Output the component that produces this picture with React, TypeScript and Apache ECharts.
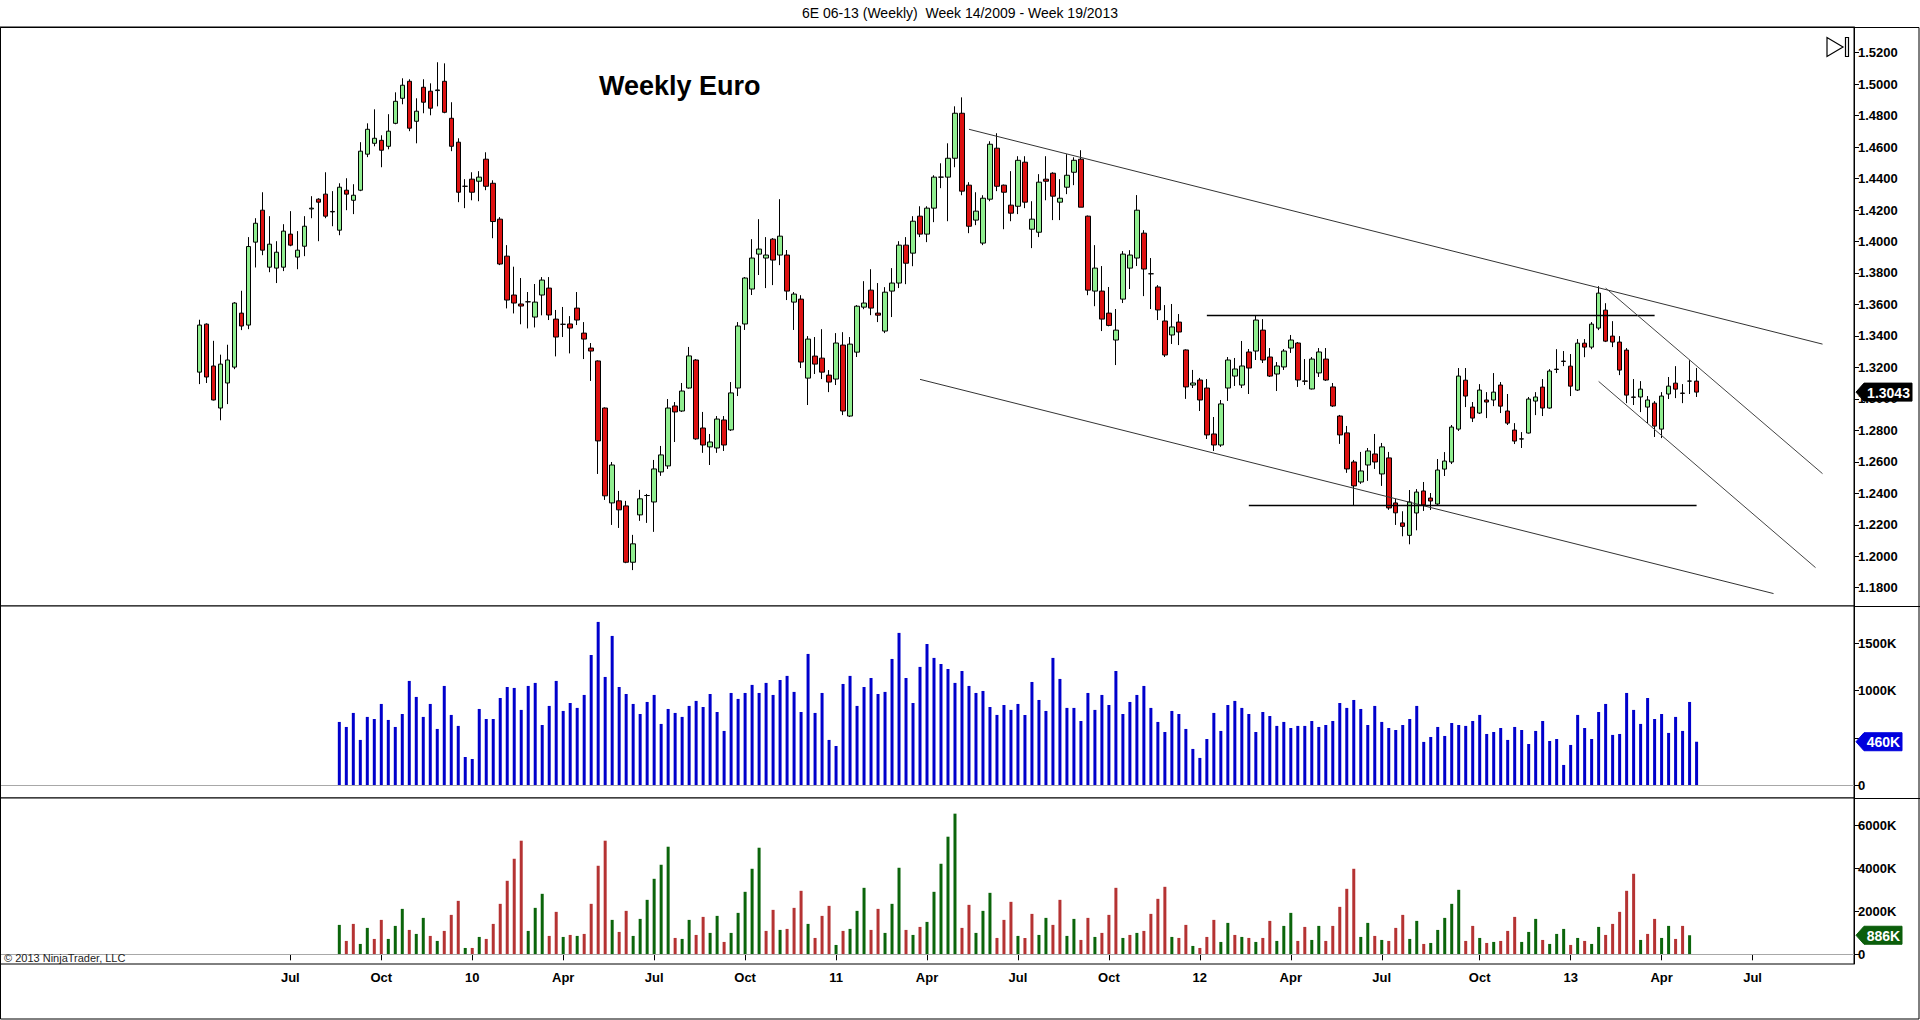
import React, { useEffect, useRef } from "react";
import * as echarts from "echarts";

// ---------- DATA ----------
const FIRST_WEEK = "2009-03-30"; // week 14/2009 (Monday)
const LEAD_WEEKS = 28; // empty weeks shown left of first bar
const TOTAL_SLOTS = 265; // weeks on the time axis (incl. future space)

const opens = [
  1.3170,1.3475,1.3209,1.2942,1.3101,1.3202,1.3545,1.3469,1.3996,1.4199,
  1.3837,1.3831,1.3837,1.4047,1.3901,1.3970,1.4207,1.4269,1.4301,1.4191,
  1.4072,1.4326,1.4262,1.4326,1.4555,1.4624,1.4643,1.4605,1.4751,1.4910,
  1.5018,1.4764,1.4980,1.4955,1.4959,1.5018,1.4783,1.4631,1.4351,1.4396,
  1.4383,1.4523,1.4370,1.4142,1.3907,1.3660,1.3603,1.3617,1.3520,1.3660,
  1.3704,1.3507,1.3474,1.3476,1.3577,1.3418,1.3323,1.3241,1.2942,1.2339,
  1.2352,1.2320,1.1962,1.2263,1.2386,1.2345,1.2536,1.2574,1.2955,1.2923,
  1.3069,1.3247,1.2815,1.2695,1.2688,1.2866,1.2803,1.3069,1.3476,1.3698,
  1.3920,1.3895,1.4015,1.3914,1.3914,1.3615,1.3634,1.3132,1.3272,1.3259,
  1.3151,1.3126,1.3342,1.2891,1.3297,1.3583,1.3691,1.3545,1.3431,1.3685,
  1.3736,1.3977,1.3926,1.4161,1.4047,1.4212,1.4409,1.4409,1.4529,1.4815,
  1.4358,1.4136,1.3990,1.4269,1.4593,1.4358,1.4231,1.4224,1.4504,1.4078,
  1.4059,1.4396,1.4434,1.4250,1.4345,1.4440,1.4523,1.4161,1.3685,1.3685,
  1.3545,1.3374,1.3634,1.3831,1.3895,1.4053,1.3795,1.3711,1.3495,1.3406,
  1.3488,1.3311,1.3088,1.3120,1.3069,1.2777,1.2707,1.3069,1.3145,1.3088,
  1.3298,1.3304,1.3437,1.3266,1.3158,1.3203,1.3323,1.3355,1.3114,1.3063,
  1.3165,1.3253,1.3076,1.2891,1.2784,1.2599,1.2472,1.2580,1.2650,1.2523,
  1.2625,1.2339,1.2212,1.2133,1.2275,1.2415,1.2370,1.2332,1.2554,1.2599,
  1.2808,1.3119,1.2948,1.2910,1.2993,1.2993,1.3088,1.2923,1.2802,1.2745,
  1.2783,1.2986,1.3075,1.2942,1.3189,1.3240,1.3208,1.3056,1.3354,1.3329,
  1.3450,1.3564,1.3399,1.3361,1.3310,1.3012,1.3012,1.2948,1.2973,1.2808,
  1.3031,1.3100,1.3037,1.3113,1.3113,
];

const highs = [
  1.3503,1.3480,1.3369,1.3281,1.3344,1.3615,1.3687,1.4028,1.4148,1.4313,
  1.4161,1.4002,1.4110,1.4193,1.4066,1.4161,1.4288,1.4275,1.4440,1.4320,
  1.4370,1.4402,1.4364,1.4631,1.4751,1.4840,1.4675,1.4809,1.4948,1.5037,
  1.5031,1.4910,1.5031,1.5005,1.5139,1.5132,1.4885,1.4656,1.4396,1.4440,
  1.4447,1.4567,1.4389,1.4155,1.3977,1.3840,1.3768,1.3679,1.3730,1.3774,
  1.3774,1.3565,1.3584,1.3526,1.3679,1.3488,1.3355,1.3245,1.2946,1.2599,
  1.2415,1.2352,1.2136,1.2422,1.2396,1.2612,1.2701,1.2999,1.2980,1.3101,
  1.3330,1.3253,1.2917,1.2777,1.2891,1.2891,1.3107,1.3488,1.3774,1.4015,
  1.4142,1.4028,1.4022,1.4269,1.3946,1.3679,1.3659,1.3399,1.3393,1.3443,
  1.3183,1.3418,1.3424,1.3393,1.3596,1.3748,1.3824,1.3736,1.3710,1.3831,
  1.4002,1.4028,1.4161,1.4224,1.4224,1.4421,1.4497,1.4624,1.4859,1.4916,
  1.4377,1.4313,1.4294,1.4637,1.4688,1.4362,1.4447,1.4542,1.4542,1.4256,
  1.4428,1.4542,1.4440,1.4396,1.4555,1.4535,1.4580,1.4165,1.3977,1.3844,
  1.3711,1.3571,1.3939,1.3945,1.4295,1.4072,1.3895,1.3723,1.3596,1.3603,
  1.3539,1.3315,1.3184,1.3133,1.3126,1.2885,1.2993,1.3266,1.3260,1.3368,
  1.3317,1.3533,1.3507,1.3323,1.3234,1.3317,1.3406,1.3361,1.3253,1.3266,
  1.3323,1.3323,1.3101,1.2898,1.2828,1.2612,1.2663,1.2688,1.2777,1.2720,
  1.2663,1.2364,1.2286,1.2421,1.2427,1.2472,1.2402,1.2618,1.2662,1.2834,
  1.3196,1.3196,1.2980,1.3094,1.3043,1.3164,1.3107,1.3031,1.2846,1.2789,
  1.3012,1.3043,1.3126,1.3189,1.3316,1.3304,1.3285,1.3380,1.3380,1.3488,
  1.3716,1.3608,1.3494,1.3399,1.3323,1.3126,1.3113,1.3018,1.2986,1.3043,
  1.3139,1.3208,1.3094,1.3246,1.3196,
];

const lows = [
  1.3094,1.3101,1.2990,1.2864,1.2967,1.3189,1.3437,1.3443,1.3835,1.3913,
  1.3805,1.3736,1.3812,1.3970,1.3824,1.3907,1.4148,1.4002,1.4148,1.4097,
  1.4040,1.4199,1.4174,1.4320,1.4536,1.4605,1.4472,1.4586,1.4745,1.4872,
  1.4701,1.4624,1.4815,1.4802,1.4859,1.4815,1.4574,1.4250,1.4212,1.4262,
  1.4256,1.4326,1.4021,1.3850,1.3575,1.3543,1.3474,1.3448,1.3454,1.3531,
  1.3501,1.3270,1.3393,1.3289,1.3469,1.3253,1.3114,1.2523,1.2358,1.2199,
  1.2180,1.1956,1.1912,1.2225,1.2212,1.2155,1.2511,1.2555,1.2726,1.2917,
  1.3065,1.2740,1.2657,1.2580,1.2657,1.2669,1.2796,1.3018,1.3438,1.3660,
  1.3787,1.3704,1.3723,1.3850,1.3628,1.3438,1.3196,1.2961,1.3158,1.3126,
  1.3043,1.3088,1.2897,1.2885,1.3266,1.3570,1.3532,1.3488,1.3418,1.3520,
  1.3704,1.3729,1.3843,1.4028,1.3996,1.4123,1.4339,1.4129,1.4472,1.4294,
  1.4053,1.4104,1.3977,1.4256,1.4320,1.4078,1.4129,1.4174,1.4212,1.3958,
  1.4028,1.4262,1.4136,1.4136,1.4301,1.4358,1.4218,1.3659,1.3589,1.3431,
  1.3461,1.3215,1.3609,1.3698,1.3844,1.3653,1.3571,1.3501,1.3266,1.3349,
  1.3342,1.3000,1.3069,1.2923,1.2745,1.2669,1.2695,1.2987,1.3082,1.3069,
  1.3031,1.3247,1.3228,1.3139,1.3050,1.3184,1.3292,1.3076,1.3088,1.3060,
  1.3139,1.3114,1.2949,1.2714,1.2530,1.2320,1.2460,1.2479,1.2555,1.2447,
  1.2295,1.2199,1.2127,1.2076,1.2165,1.2288,1.2294,1.2326,1.2510,1.2586,
  1.2796,1.2948,1.2853,1.2904,1.2878,1.2954,1.2910,1.2834,1.2713,1.2688,
  1.2780,1.2897,1.2891,1.2938,1.3164,1.3208,1.3018,1.3050,1.3265,1.3316,
  1.3437,1.3361,1.3329,1.3151,1.2973,1.2961,1.2916,1.2846,1.2758,1.2751,
  1.2999,1.3005,1.2973,1.3031,1.3012,
];

const closes = [
  1.3469,1.3139,1.2993,1.3221,1.3247,1.3609,1.3463,1.3968,1.4116,1.3945,
  1.3983,1.3932,1.4066,1.3977,1.3945,1.4097,1.4212,1.4250,1.4161,1.4188,
  1.4345,1.4301,1.4294,1.4574,1.4713,1.4656,1.4580,1.4701,1.4891,1.4993,
  1.4720,1.4828,1.4885,1.4847,1.4963,1.4821,1.4605,1.4313,1.4351,1.4313,
  1.4409,1.4351,1.4127,1.3857,1.3628,1.3609,1.3590,1.3617,1.3615,1.3755,
  1.3533,1.3393,1.3474,1.3450,1.3501,1.3380,1.3304,1.2733,1.2384,1.2580,
  1.2295,1.1962,1.2079,1.2365,1.2386,1.2555,1.2644,1.2942,1.2917,1.3050,
  1.3273,1.2746,1.2707,1.2726,1.2872,1.2707,1.3038,1.3463,1.3768,1.3895,
  1.3952,1.3914,1.3882,1.4034,1.3685,1.3666,1.3234,1.3380,1.3221,1.3170,
  1.3107,1.3355,1.2923,1.3348,1.3589,1.3609,1.3577,1.3532,1.3678,1.3736,
  1.3977,1.3862,1.4129,1.4047,1.4212,1.4409,1.4409,1.4529,1.4815,1.4320,
  1.4097,1.4193,1.4275,1.4618,1.4351,1.4313,1.4180,1.4516,1.4250,1.4142,
  1.4377,1.4383,1.4288,1.4275,1.4421,1.4516,1.4218,1.3691,1.3831,1.3507,
  1.3467,1.3437,1.3920,1.3914,1.4199,1.3825,1.3795,1.3565,1.3279,1.3457,
  1.3425,1.3076,1.3101,1.2993,1.2771,1.2707,1.2968,1.3247,1.3190,1.3209,
  1.3196,1.3501,1.3247,1.3145,1.3209,1.3304,1.3374,1.3120,1.3112,1.3253,
  1.3298,1.3120,1.2955,1.2771,1.2555,1.2447,1.2542,1.2669,1.2599,1.2695,
  1.2307,1.2276,1.2190,1.2345,1.2408,1.2326,1.2351,1.2548,1.2605,1.2821,
  1.3145,1.3018,1.2878,1.3056,1.2980,1.3043,1.2954,1.2846,1.2732,1.2746,
  1.2999,1.3012,1.2942,1.3177,1.3187,1.3238,1.3081,1.3354,1.3329,1.3475,
  1.3672,1.3367,1.3361,1.3183,1.3024,1.3010,1.3062,1.2993,1.2827,1.3018,
  1.3081,1.3062,1.3035,1.3113,1.3043,
];

// Weekly volume (thousands), starts at bar index 20
const VOLUME_START = 20;
const volume = [
  669,616,764,479,722,700,859,690,616,753,
  1102,933,722,859,595,1049,743,627,299,278,
  806,700,700,922,1038,1028,796,1049,1081,637,
  838,1102,785,869,817,954,1376,1725,1144,1577,
  1038,964,859,753,880,954,648,806,764,722,
  838,891,827,964,774,574,975,912,975,1060,
  975,1081,954,1112,1155,
  986,774,1387,764,975,479,415,1070,1155,
  838,1038,1133,964,986,1334,1609,1133,869,1250,
  1492,1345,1281,1228,1081,1207,1049,975,996,827,
  743,848,796,859,743,1091,901,785,1345,1123,
  817,817,679,975,796,954,848,1207,753,880,
  954,1049,817,669,563,785,753,595,384,289,
  489,764,574,848,891,817,
  753,563,774,732,627,669,605,627,627,679,
  616,637,679,869,817,901,806,637,838,669,
  605,584,637,700,838,458,510,616,521,658,
  637,627,679,743,542,563,605,479,616,584,
  436,574,679,468,489,215,426,743,605,489,
  774,859,532,542,975,796,648,922,700,753,
  553,722,574,880,460,
];

// Lower panel (thousands), starts at bar index 20, coloured up (G) / down (R)
const LOWER_START = 20;
const lowerValues = [
  1368,622,1414,482,1228,715,1601,715,1321,2113,
  1134,948,1694,855,622,1088,1834,2486,295,295,
  808,715,1414,2347,3419,4444,5284,1088,2160,2813,
  855,1974,808,901,855,948,2347,4118,5284,1601,
  1041,2020,855,1647,2533,3512,4165,5004,761,715,
  1601,901,1740,995,1787,575,995,1927,2906,3978,
  4957,1088,2067,1134,1181,
  2160,2953,1414,761,1787,2253,435,1088,1181,
  2020,3092,1134,2113,995,2347,4025,1134,901,1274,
  1507,2906,4211,5470,6542,1228,2300,995,2020,2859,
  761,1601,2440,855,761,1880,901,1694,1368,2533,
  855,1647,668,1694,808,995,1834,3092,761,901,
  995,1088,1880,2580,3139,808,761,1368,389,295,
  808,1601,575,1461,901,808,
  761,575,761,1554,622,1321,1927,622,1274,668,
  1321,622,1321,2207,3046,3978,808,1461,855,668,
  622,1228,1834,715,1554,482,528,1134,1694,2347,
  2999,622,1321,761,528,575,622,1088,1740,575,
  1041,1647,668,482,948,1181,435,761,622,482,
  1274,901,1414,1974,2953,3745,668,948,1647,761,
  1321,715,1321,886,
];
const lowerDirections =
  "GRRGGRRGGG" + "RGGRGRRRGR" + "GRRRRRRGGG" + "RRGRGRRRRG" + "RRGGGGGGRG" +
  "GRRGGRGGGG" + "GRRGR" + "RRGRRRGRG" + "GGRRGGGRGR" + "GGGGGRRGGG" +
  "RRRGRRGGRR" + "GGRRGRRRGR" + "GRRRRGRRGR" + "RRGGRG" + "RGRRGGGRRG" +
  "GRRRRRGGRG" + "RRRGGRGGGG" + "GRRGRGRRRG" + "GGRGGGRGRG" + "GRRRRRGRRG" + "GRRG";

// Drawn lines: bar index / price at both ends
const drawnLines = [
  { i0: 110, p0: 1.4713, i1: 232, p1: 1.3348, color: "#333333", width: 1 },
  { i0: 103, p0: 1.3124, i1: 225, p1: 1.1763, color: "#333333", width: 1 },
  { i0: 144, p0: 1.3534, i1: 208, p1: 1.3534, color: "#000000", width: 1.4 },
  { i0: 150, p0: 1.2326, i1: 214, p1: 1.2326, color: "#000000", width: 1.4 },
  { i0: 201, p0: 1.3704, i1: 232, p1: 1.2525, color: "#444444", width: 1 },
  { i0: 200, p0: 1.3111, i1: 231, p1: 1.1928, color: "#444444", width: 1 },
];

const priceTicks = [1.18,1.20,1.22,1.24,1.26,1.28,1.30,1.32,1.34,1.36,1.38,1.40,1.42,1.44,1.46,1.48,1.50,1.52];
const volumeTicks = [0, 500, 1000, 1500];
const volumeTickLabels = [0, 1000, 1500]; // 500K is hidden behind the last-value marker
const lowerTicks = [0, 2000, 4000, 6000];

const timeTicks = [
  ["2009-07-01", "Jul"], ["2009-10-01", "Oct"], ["2010-01-01", "10"], ["2010-04-01", "Apr"],
  ["2010-07-01", "Jul"], ["2010-10-01", "Oct"], ["2011-01-01", "11"], ["2011-04-01", "Apr"],
  ["2011-07-01", "Jul"], ["2011-10-01", "Oct"], ["2012-01-01", "12"], ["2012-04-01", "Apr"],
  ["2012-07-01", "Jul"], ["2012-10-01", "Oct"], ["2013-01-01", "13"], ["2013-04-01", "Apr"],
  ["2013-07-01", "Jul"],
];

const TITLE = "6E 06-13 (Weekly)  Week 14/2009 - Week 19/2013";
const CHART_NOTE = "Weekly Euro";
const COPYRIGHT = "© 2013 NinjaTrader, LLC";

// ---------- COMPONENT ----------
const FONT = '"Liberation Sans", Arial, Helvetica, sans-serif';
const WEEK_MS = 7 * 86400000;

export default function App() {
  const ref = useRef<HTMLDivElement>(null);

  useEffect(() => {
    document.body.style.margin = "0";
    const el = ref.current;
    if (!el) return;
    const chart = echarts.init(el, null, { renderer: "svg" });

    const start = Date.parse(FIRST_WEEK + "T00:00:00Z");
    const categories: string[] = [];
    for (let k = 0; k < TOTAL_SLOTS; k++) {
      categories.push(new Date(start + (k - LEAD_WEEKS) * WEEK_MS).toISOString().slice(0, 10));
    }
    const labelAt: Record<number, string> = {};
    timeTicks.forEach(([d, text]) => {
      const k = LEAD_WEEKS + Math.floor((Date.parse(d + "T00:00:00Z") - start) / WEEK_MS);
      labelAt[k] = text;
    });
    const tickFn = (idx: number) => labelAt[idx] !== undefined;

    const candleData = categories.map((_, k) => {
      const i = k - LEAD_WEEKS;
      return i >= 0 && i < opens.length ? [opens[i], closes[i], lows[i], highs[i]] : "-";
    });
    const volData = categories.map((_, k) => {
      const i = k - LEAD_WEEKS - VOLUME_START;
      return i >= 0 && i < volume.length ? volume[i] : "-";
    });
    const lowerData = categories.map((_, k) => {
      const i = k - LEAD_WEEKS - LOWER_START;
      if (i < 0 || i >= lowerValues.length) return "-";
      return {
        value: lowerValues[i],
        itemStyle: { color: lowerDirections[i] === "G" ? "#0b650b" : "#b53333" },
      };
    });

    const GL = 0;
    const GW = 1854;
    const AXIS_X = GL + GW;

    const xAxes = [0, 1, 2].map((g) => ({
      type: "category",
      gridIndex: g,
      data: categories,
      boundaryGap: true,
      axisLine: { show: false },
      axisTick: {
        show: g === 2,
        interval: tickFn,
        alignWithLabel: true,
        length: 6,
        lineStyle: { color: "#000" },
      },
      axisLabel: {
        show: g === 2,
        interval: tickFn,
        formatter: (_v: string, idx: number) => labelAt[idx] || "",
        fontFamily: FONT,
        fontWeight: "bold",
        fontSize: 13,
        color: "#000",
        margin: 7,
      },
      splitLine: { show: false },
    }));

    const yAxisBase = (
      g: number,
      min: number,
      max: number,
      ticks: number[],
      labels: number[],
      fmt: (v: number) => string
    ) => ({
      type: "value",
      gridIndex: g,
      position: "right",
      min,
      max,
      axisLine: { show: true, lineStyle: { color: "#000" } },
      axisTick: { show: true, customValues: ticks, length: 5, lineStyle: { color: "#000" } },
      axisLabel: {
        customValues: labels,
        formatter: fmt,
        fontFamily: FONT,
        fontWeight: "bold",
        fontSize: 13,
        color: "#000",
        margin: 4,
      },
      splitLine: { show: false },
    });

    const zeroLine = {
      silent: true,
      symbol: ["none", "none"],
      label: { show: false },
      lineStyle: { color: "#a8a8a8", width: 1, type: "solid" },
      data: [{ yAxis: 0 }],
    };

    const gridStyle = { show: true, borderColor: "#000", borderWidth: 1, backgroundColor: "#fff" };

    const staticGraphics: any[] = [
      {
        type: "text",
        x: 960,
        y: 13,
        z: 100,
        style: { text: TITLE, fill: "#000", font: `14px ${FONT}`, textAlign: "center", textVerticalAlign: "middle" },
      },
      {
        type: "rect",
        z: 100,
        shape: { x: 0.5, y: 27.5, width: 1918.5, height: 991.5 },
        style: { fill: "none", stroke: "#000", lineWidth: 1 },
      },
      { type: "line", z: 100, shape: { x1: AXIS_X, y1: 606.5, x2: 1920, y2: 606.5 }, style: { stroke: "#000", lineWidth: 1 } },
      { type: "line", z: 100, shape: { x1: AXIS_X, y1: 798.5, x2: 1920, y2: 798.5 }, style: { stroke: "#000", lineWidth: 1 } },
      {
        type: "text",
        x: 599,
        y: 86,
        z: 100,
        style: { text: CHART_NOTE, fill: "#000", font: `bold 27px ${FONT}`, textAlign: "left", textVerticalAlign: "middle" },
      },
      {
        type: "text",
        x: 4,
        y: 958,
        z: 100,
        style: { text: COPYRIGHT, fill: "#222", font: `11px ${FONT}`, textAlign: "left", textVerticalAlign: "middle" },
      },
      {
        type: "polygon",
        z: 100,
        shape: { points: [[1827, 37.5], [1827, 56.5], [1843, 47]] },
        style: { fill: "none", stroke: "#000", lineWidth: 1.2 },
      },
      {
        type: "rect",
        z: 100,
        shape: { x: 1845.5, y: 37.5, width: 3, height: 19 },
        style: { fill: "none", stroke: "#000", lineWidth: 1.2 },
      },
    ];

    const option: any = {
      animation: false,
      backgroundColor: "#fff",
      textStyle: { fontFamily: FONT },
      grid: [
        { left: GL, width: GW, top: 27, height: 579, ...gridStyle },
        { left: GL, width: GW, top: 606, height: 192, ...gridStyle },
        { left: GL, width: GW, top: 798, height: 166, ...gridStyle },
      ],
      xAxis: xAxes,
      yAxis: [
        yAxisBase(0, 1.1684, 1.5363, priceTicks, priceTicks, (v: number) => v.toFixed(4)),
        yAxisBase(1, -134, 1893, volumeTicks, volumeTickLabels, (v: number) => (v === 0 ? "0" : `${v}K`)),
        yAxisBase(2, -451, 7270, lowerTicks, lowerTicks, (v: number) => (v === 0 ? "0" : `${v}K`)),
      ],
      series: [
        {
          type: "candlestick",
          name: "6E 06-13",
          xAxisIndex: 0,
          yAxisIndex: 0,
          data: candleData,
          barWidth: 5,
          silent: true,
          itemStyle: {
            color: "#90ee90",
            color0: "#dd1111",
            borderColor: "#000",
            borderColor0: "#000",
            borderColorDoji: "#000",
            borderWidth: 1,
          },
          markLine: {
            silent: true,
            symbol: ["none", "none"],
            label: { show: false },
            data: drawnLines.map((l) => [
              { coord: [l.i0 + LEAD_WEEKS, l.p0], lineStyle: { color: l.color, width: l.width, type: "solid" } },
              { coord: [l.i1 + LEAD_WEEKS, l.p1] },
            ]),
          },
        },
        {
          type: "bar",
          name: "Volume",
          xAxisIndex: 1,
          yAxisIndex: 1,
          data: volData,
          barWidth: 3,
          silent: true,
          itemStyle: { color: "#0000cc" },
          markLine: zeroLine,
        },
        {
          type: "bar",
          name: "Lower",
          xAxisIndex: 2,
          yAxisIndex: 2,
          data: lowerData,
          barWidth: 3,
          silent: true,
          markLine: zeroLine,
        },
      ],
      graphic: staticGraphics,
    };

    chart.setOption(option);

    const lastClose = closes[closes.length - 1];
    const lastVol = volume[volume.length - 1];
    const lastLower = lowerValues[lowerValues.length - 1];
    const yClose = chart.convertToPixel({ yAxisIndex: 0 } as any, lastClose) as number;
    const yVol = chart.convertToPixel({ yAxisIndex: 1 } as any, lastVol) as number;
    const yLow = chart.convertToPixel({ yAxisIndex: 2 } as any, lastLower) as number;

    const marker = (y: number, text: string, fill: string, right: number) => [
      {
        type: "polygon",
        z: 110,
        shape: {
          points: [
            [AXIS_X + 2, y],
            [AXIS_X + 10, y - 9],
            [right, y - 9],
            [right, y + 9],
            [AXIS_X + 10, y + 9],
          ],
        },
        style: { fill, stroke: fill },
      },
      {
        type: "text",
        z: 111,
        x: (AXIS_X + 9 + right) / 2 + 1,
        y: y + 0.5,
        style: {
          text,
          fill: "#fff",
          font: `bold 14px ${FONT}`,
          textAlign: "center",
          textVerticalAlign: "middle",
        },
      },
    ];

    chart.setOption({
      graphic: [
        ...staticGraphics,
        ...marker(yClose, lastClose.toFixed(4), "#000", 1912),
        ...marker(yVol, `${lastVol}K`, "#0000dd", 1902),
        ...marker(yLow, `${lastLower}K`, "#0b5e0b", 1902),
      ],
    });

    return () => chart.dispose();
  }, []);

  return <div ref={ref} style={{ width: 1920, height: 1020 }} />;
}
